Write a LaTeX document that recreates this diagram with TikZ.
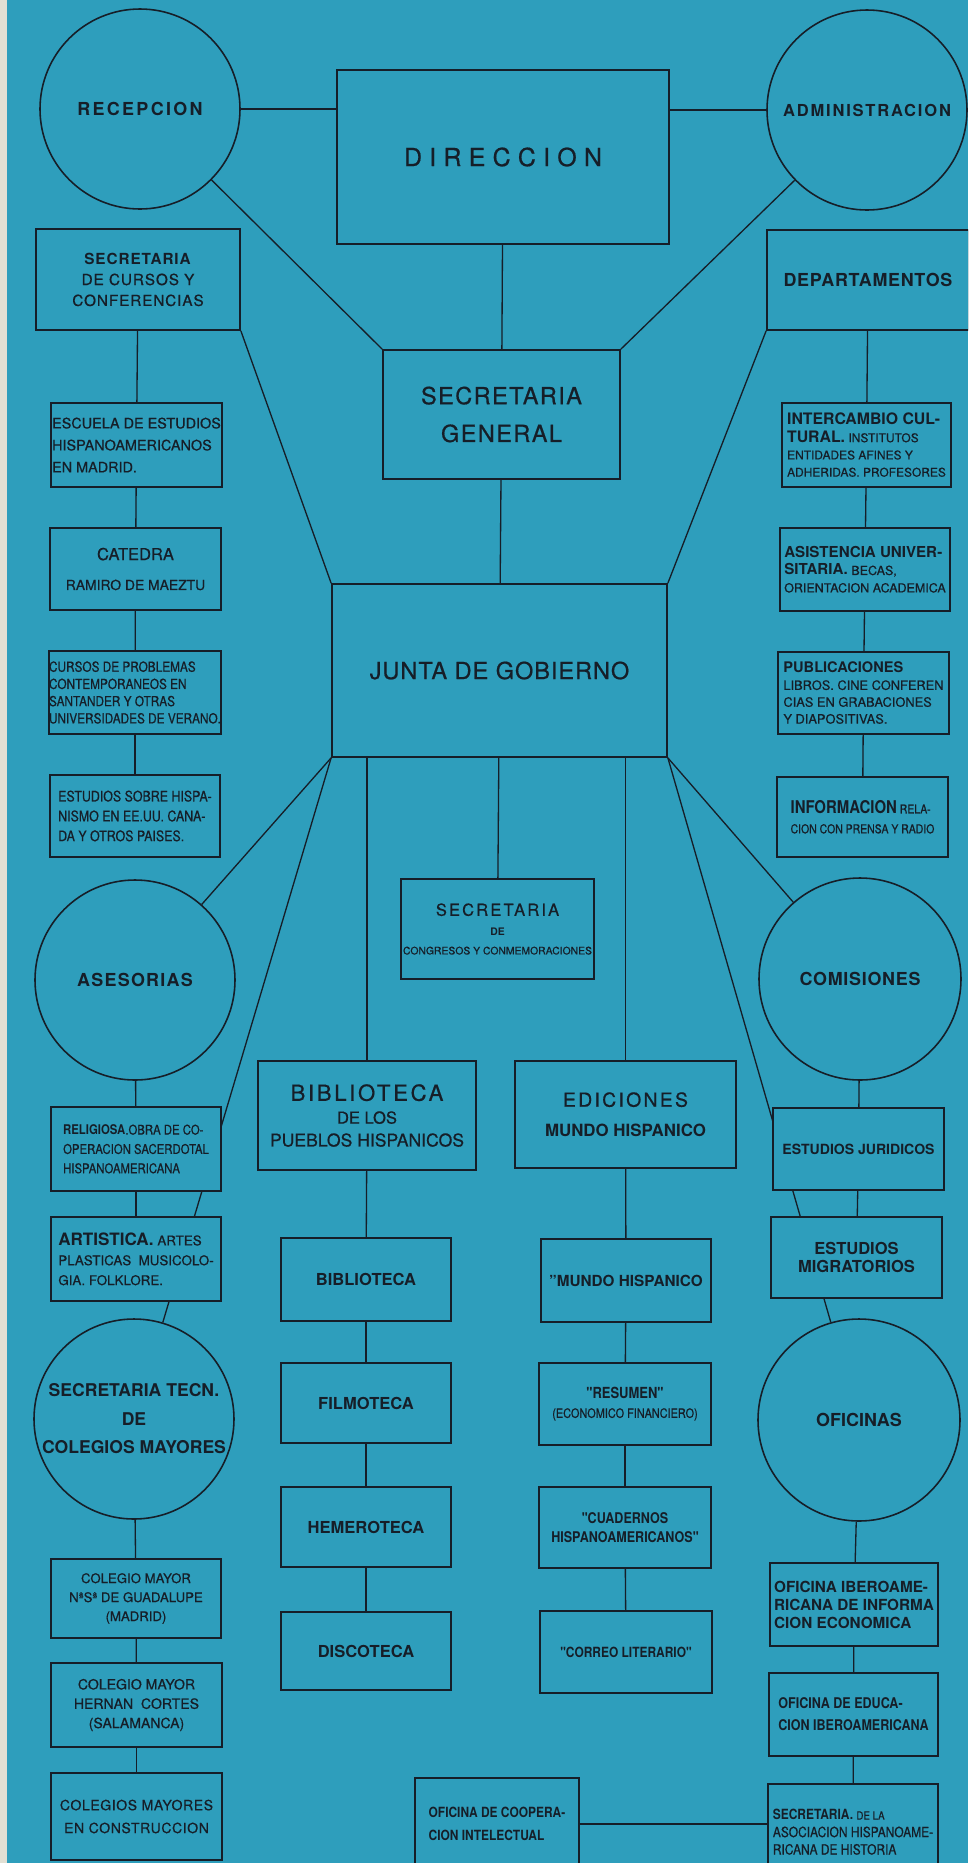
\documentclass[tikz,border=0pt]{standalone}
\usepackage{fontspec}
\setmainfont{TeX Gyre Heros}[UprightFeatures={FakeBold=0.6}]
\newfontfamily\handn{TeX Gyre Heros}[FakeStretch=0.85, UprightFeatures={FakeBold=0.6}]
\newcommand\fsz[2]{\fontsize{#1}{#2}\selectfont}
\newcommand\letsp[1]{\addfontfeature{LetterSpace=#1}}
\definecolor{sheet}{RGB}{46,158,188}
\definecolor{ink}{RGB}{22,30,40}
\definecolor{margin}{RGB}{226,224,212}
\pgfdeclarelayer{paperlayer}
\pgfdeclarelayer{wires}
\pgfsetlayers{paperlayer,wires,main}

\begin{document}
\begin{tikzpicture}[
  box/.style={draw=ink, line width=1pt, fill=sheet, text=ink, inner sep=0pt, align=center},
  sbox/.style={box, minimum width=3.40cm, minimum height=1.66cm},
  disc/.style={circle, draw=ink, line width=0.9pt, fill=sheet, text=ink, inner sep=0pt, minimum size=4.00cm, align=center},
  wire/.style={draw=ink, line width=0.75pt}
]
\useasboundingbox (0,0) rectangle (19.36,-37.26);
\begin{pgfonlayer}{paperlayer}
\fill[sheet] (0,0) rectangle (19.36,-37.26);
\fill[margin] (0,0) rectangle (0.14,-37.26);
\end{pgfonlayer}
\clip (0,0) rectangle (19.36,-37.26);

% top
\node[disc, font=\fsz{10.2}{12}\bfseries\letsp{13}] (rec) at (2.80,-2.18) {RECEPCION};
\node[box, minimum width=6.64cm, minimum height=3.48cm, font=\fsz{14.2}{17}\letsp{29}] (dir) at (10.06,-3.14) {DIRECCION};
\node[disc, font=\fsz{9.4}{12}\bfseries\letsp{11}] (adm) at (17.34,-2.20) {ADMINISTRACION};
\node[box, minimum width=4.08cm, minimum height=2.02cm, font=\fsz{8.7}{11.9}\letsp{6}] (cur) at (2.76,-5.59) {\textbf{SECRETARIA}\\DE CURSOS Y\\CONFERENCIAS};
\node[box, minimum width=4.04cm, minimum height=2.00cm, font=\fsz{10.2}{12}\bfseries\letsp{4}] (dep) at (17.36,-5.60) {DEPARTAMENTOS};
\node[box, minimum width=4.74cm, minimum height=2.58cm, font=\fsz{13.4}{21.5}\letsp{6}] (sg) at (10.03,-8.29) {SECRETARIA\\GENERAL};
\node[box, minimum width=6.70cm, minimum height=3.46cm, font=\fsz{13.4}{16}\letsp{4}] (jun) at (9.99,-13.41) {JUNTA DE GOBIERNO};

% left column
\node[sbox, minimum width=3.42cm, minimum height=1.68cm, align=left, font=\fsz{8.2}{12.5}] (esc) at (2.73,-8.90) {ESCUELA DE ESTUDIOS\\HISPANOAMERICANOS\\EN MADRID.};
\node[sbox, minimum width=3.42cm, minimum height=1.64cm, font=\fsz{9.4}{17}] (cat) at (2.71,-11.38) {CATEDRA\\{\fsz{7.9}{17}RAMIRO DE MAEZTU}};
\node[sbox, align=left, font=\handn\fsz{7.9}{9.8}] (cpr) at (2.70,-13.85) {CURSOS DE PROBLEMAS\\CONTEMPORANEOS EN\\SANTANDER Y OTRAS\\UNIVERSIDADES DE VERANO.};
\node[sbox, minimum height=1.64cm, align=left, font=\handn\fsz{8.3}{11.3}] (his) at (2.70,-16.32) {ESTUDIOS SOBRE HISPA-\\NISMO EN EE.UU. CANA-\\DA Y OTROS PAISES.};
\node[disc, font=\fsz{10.2}{12}\bfseries\letsp{7}] (ase) at (2.70,-19.60) {ASESORIAS};
\node[sbox, minimum height=1.68cm, align=left, font=\handn\fsz{7.6}{11}] (rel) at (2.72,-22.98) {\textbf{RELIGIOSA}.OBRA DE CO-\\OPERACION SACERDOTAL\\HISPANOAMERICANA};
\node[sbox, minimum height=1.68cm, align=left, font=\fsz{7.6}{11.3}] (art) at (2.72,-25.18) {\textbf{\fsz{9.7}{11.3}ARTISTICA.} ARTES\\PLASTICAS \ MUSICOLO-\\GIA. FOLKLORE.};
\node[disc, font=\fsz{10}{16.2}\bfseries] (tec) at (2.68,-28.38) {SECRETARIA TECN.\\DE\\COLEGIOS MAYORES};
\node[sbox, minimum height=1.58cm, font=\fsz{7.5}{10.8}] (cm1) at (2.72,-31.97) {COLEGIO MAYOR\\NªSª DE GUADALUPE\\(MADRID)};
\node[sbox, minimum width=3.42cm, minimum height=1.68cm, font=\fsz{8}{11}] (cm2) at (2.73,-34.10) {COLEGIO MAYOR\\HERNAN \ CORTES\\(SALAMANCA)};
\node[sbox, minimum width=3.42cm, minimum height=1.74cm, font=\fsz{8}{13}\letsp{4}] (cmc) at (2.73,-36.33) {COLEGIOS MAYORES\\EN CONSTRUCCION};

% right column
\node[sbox, minimum width=3.38cm, minimum height=1.68cm, align=left, font=\fsz{6.8}{9.8}] (int) at (17.33,-8.90) {\textbf{\fsz{9}{9.8}INTERCAMBIO CUL-}\\\textbf{\fsz{9}{9.8}TURAL.} INSTITUTOS\\ENTIDADES AFINES Y\\ADHERIDAS. PROFESORES};
\node[sbox, align=left, font=\fsz{7.1}{9.9}] (asi) at (17.30,-11.39) {\textbf{\fsz{8.6}{9.9}ASISTENCIA UNIVER-}\\\textbf{\fsz{8.6}{9.9}SITARIA.} BECAS,\\ORIENTACION ACADEMICA};
\node[sbox, minimum width=3.42cm, minimum height=1.64cm, align=left, font=\fsz{7.3}{9.6}] (pub) at (17.27,-13.86) {\textbf{\fsz{8.3}{9.6}PUBLICACIONES}\\LIBROS. CINE CONFEREN\\CIAS EN GRABACIONES\\Y DIAPOSITIVAS.};
\node[sbox, minimum width=3.42cm, minimum height=1.60cm, align=left, font=\handn\fsz{7}{11.3}] (inf) at (17.25,-16.34) {\textbf{\fsz{10}{11.3}INFORMACION} RELA-\\CION CON PRENSA Y RADIO};
\node[disc, minimum size=4.04cm, font=\fsz{10.2}{12}\bfseries\letsp{4}] (com) at (17.20,-19.58) {COMISIONES};
\node[sbox, minimum width=3.42cm, minimum height=1.64cm, font=\fsz{8}{10}\bfseries] (jur) at (17.17,-22.98) {ESTUDIOS JURIDICOS};
\node[sbox, minimum width=3.42cm, minimum height=1.62cm, font=\fsz{9.4}{10.2}\bfseries] (mig) at (17.13,-25.15) {ESTUDIOS\\MIGRATORIOS};
\node[disc, minimum size=4.04cm, font=\fsz{10.2}{12}\bfseries] (ofi) at (17.18,-28.40) {OFICINAS};
\node[sbox, minimum width=3.36cm, align=left, font=\fsz{8.7}{10.2}\bfseries] (oib) at (17.08,-32.09) {OFICINA IBEROAME-\\RICANA DE INFORMA\\CION ECONOMICA};
\node[sbox, minimum width=3.38cm, align=left, font=\handn\fsz{8.4}{12.5}\bfseries] (oed) at (17.07,-34.29) {OFICINA DE EDUCA-\\CION IBEROAMERICANA};
\node[sbox, minimum height=1.92cm, align=left, font=\handn\fsz{8}{9.9}] (sah) at (17.06,-36.64) {\textbf{SECRETARIA.} {\fsz{6.5}{9.9}DE LA}\\ASOCIACION HISPANOAME-\\RICANA DE HISTORIA};

% middle
\node[box, minimum width=3.86cm, minimum height=2.00cm, font=\fsz{5.9}{11}] (scc) at (9.95,-18.58) {{\fsz{9.4}{11}\letsp{13}SECRETARIA}\\\textbf{DE}\\CONGRESOS Y CONMEMORACIONES};
\node[box, minimum width=4.36cm, minimum height=2.18cm, font=\fsz{10}{13}] (bpu) at (7.34,-22.31) {{\fsz{12.6}{15}\letsp{12}BIBLIOTECA}\\{\fsz{9.4}{13}DE LOS}\\PUEBLOS HISPANICOS};
\node[box, minimum width=4.42cm, minimum height=2.14cm, font=\fsz{9.6}{17}] (edi) at (12.51,-22.29) {{\fsz{11}{17}\letsp{12}EDICIONES}\\\textbf{MUNDO HISPANICO}};
\node[sbox, font=\fsz{9.4}{11}\bfseries] (bib) at (7.32,-25.59) {BIBLIOTECA};
\node[sbox, minimum height=1.60cm, font=\fsz{9.4}{11}\bfseries] (fil) at (7.32,-28.06) {FILMOTECA};
\node[sbox, minimum height=1.60cm, font=\fsz{9.4}{11}\bfseries] (hem) at (7.32,-30.54) {HEMEROTECA};
\node[sbox, minimum height=1.56cm, font=\fsz{9.4}{11}\bfseries] (dis) at (7.32,-33.02) {DISCOTECA};
\node[sbox, font=\fsz{8.7}{10}\bfseries] (mun) at (12.52,-25.61) {"MUNDO HISPANICO};
\node[sbox, minimum width=3.44cm, minimum height=1.64cm, font=\handn\fsz{7.3}{10.8}] (res) at (12.50,-28.08) {\textbf{\fsz{8.7}{10.8}"RESUMEN"}\\(ECONOMICO FINANCIERO)};
\node[sbox, minimum width=3.44cm, minimum height=1.62cm, font=\handn\fsz{8.4}{10.8}\bfseries] (cua) at (12.50,-30.55) {"CUADERNOS\\HISPANOAMERICANOS"};
\node[sbox, minimum width=3.44cm, minimum height=1.64cm, font=\handn\fsz{8}{10}\bfseries] (cor) at (12.52,-33.04) {"CORREO LITERARIO"};
\node[box, minimum width=3.28cm, minimum height=1.84cm, align=left, font=\handn\fsz{8}{13}\bfseries] (ocp) at (9.94,-36.48) {OFICINA DE COOPERA-\\CION INTELECTUAL};

\begin{pgfonlayer}{wires}
\draw[wire] (rec.east) -- (rec.east -| dir.west);
\draw[wire] (adm.west) -- (adm.west -| dir.east);
\draw[wire] (dir) -- (sg);
\draw[wire] (rec) -- (sg.north west);
\draw[wire] (adm) -- (sg.north east);
\draw[wire] (sg) -- (jun);
\draw[wire] (cur.south east) -- (jun.north west);
\draw[wire] (dep.south west) -- (jun.north east);
\draw[wire] (cur) -- (esc);
\draw[wire] (esc) -- (cat);
\draw[wire] (cat) -- (cpr);
\draw[wire] (cpr) -- (his);
\draw[wire] (dep) -- (int);
\draw[wire] (int) -- (asi);
\draw[wire] (asi) -- (pub);
\draw[wire] (pub) -- (inf);
\draw[wire] (jun.south west) -- (ase);
\draw[wire] (jun.south west) -- (tec);
\draw[wire] (jun.south east) -- (com);
\draw[wire] (jun.south east) -- (ofi);
\draw[wire] (bpu.north |- jun.south) -- (bpu);
\draw[wire] (jun) -- (scc);
\draw[wire] (edi.north |- jun.south) -- (edi);
\draw[wire] (ase) -- (rel);
\draw[wire] (rel) -- (art);
\draw[wire] (tec) -- (cm1);
\draw[wire] (cm1) -- (cm2);
\draw[wire] (cm2) -- (cmc);
\draw[wire] (bpu) -- (bib);
\draw[wire] (bib) -- (fil);
\draw[wire] (fil) -- (hem);
\draw[wire] (hem) -- (dis);
\draw[wire] (edi) -- (mun);
\draw[wire] (mun) -- (res);
\draw[wire] (res) -- (cua);
\draw[wire] (cua) -- (cor);
\draw[wire] (com) -- (jur);
\draw[wire] (jur) -- (mig);
\draw[wire] (ofi) -- (oib);
\draw[wire] (oib) -- (oed);
\draw[wire] (oed) -- (sah);
\draw[wire] (ocp.east) -- (ocp.east -| sah.west);
\end{pgfonlayer}
\end{tikzpicture}
\end{document}
